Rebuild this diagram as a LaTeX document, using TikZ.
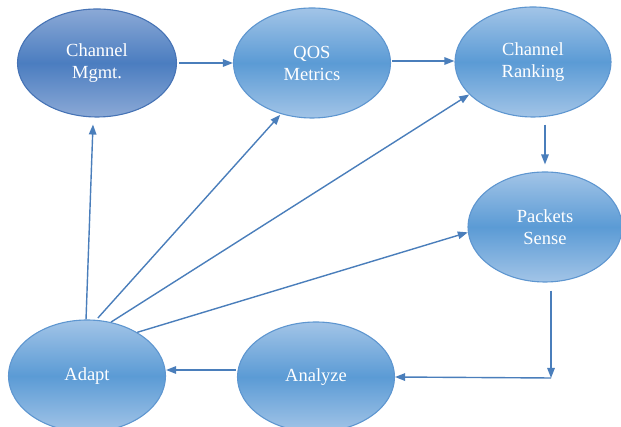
\documentclass[tikz,border=0pt]{standalone}
\usepackage{fontspec}
\setmainfont{Liberation Serif}
\usetikzlibrary{arrows.meta,shapes.geometric}

\definecolor{ovlite}{HTML}{A2C4E7}
\definecolor{ovmid}{HTML}{5B9BD5}
\definecolor{ovedge}{HTML}{5E96D0}
\definecolor{mglite}{HTML}{8BA9D6}
\definecolor{mgmid}{HTML}{4B7DC0}
\definecolor{mgedge}{HTML}{4673B5}
\definecolor{linkblue}{HTML}{4A7EBB}

\pgfdeclareverticalshading{ovalfill}{100bp}{color(0bp)=(ovlite); color(25bp)=(ovlite); color(50bp)=(ovmid); color(75bp)=(ovlite); color(100bp)=(ovlite)}
\pgfdeclareverticalshading{mgmtfill}{100bp}{color(0bp)=(mglite); color(25bp)=(mglite); color(50bp)=(mgmid); color(75bp)=(mglite); color(100bp)=(mglite)}

\tikzset{
  oval/.style={ellipse, draw=ovedge, line width=1.1pt, shading=ovalfill,
    minimum width=157pt, minimum height=110pt, inner sep=0pt,
    text=white, font=\fontsize{18.5}{22}\selectfont, align=center},
  darkoval/.style={oval, draw=mgedge, shading=mgmtfill},
  link/.style={draw=linkblue, line width=1.4pt,
    -{Triangle[length=10pt,width=7.5pt]}}
}

\begin{document}
\begin{tikzpicture}[x=1pt,y=1pt]
  \useasboundingbox (0,0) rectangle (621,427);
  \clip (0,0) rectangle (621,427);

  % process stages
  \node[darkoval, minimum width=159pt, minimum height=108pt] (mgmt) at (97,364) {Channel\\Mgmt.};
  \node[oval] (qos)  at (312,364) {QOS\\Metrics};
  \node[oval, minimum width=156pt] (rank) at (533,365) {Channel\\Ranking};
  \node[oval, minimum width=154pt] (pkt)  at (545,200) {Packets\\Sense};
  \node[oval] (analyze) at (316,50) {Analyze};
  \node[oval, minimum height=112pt] (adapt) at (87,51) {Adapt};
  \coordinate (corner) at (551,49);

  % top row
  \draw[link, shorten <=2pt] (mgmt.east) -- (qos.west);
  \draw[link, shorten <=1pt] ([yshift=2pt]qos.east) -- ([yshift=2pt]qos.east -| rank.west);
  \draw[link, shorten <=7pt, shorten >=7pt] (rank.south -| pkt.north) -- (pkt.north);

  % return path to Analyze and Adapt
  \draw[link, shorten <=8pt] (pkt.south -| corner) -- (corner);
  \draw[link] (corner) -- (analyze.east);
  \draw[link, shorten <=1pt] ([yshift=7pt]analyze.west) -- ([yshift=7pt]analyze.west -| adapt.east);

  % fan out of Adapt
  \draw[link] (adapt.91) -- ([xshift=-4pt,yshift=-7pt]mgmt.south);
  \draw[link] ([yshift=2pt]adapt.79) -- ([yshift=-1pt]qos.238);
  \draw[link] (adapt.66) -- (rank.207);
  \draw[link] (adapt.41) -- (pkt.184);
\end{tikzpicture}
\end{document}
